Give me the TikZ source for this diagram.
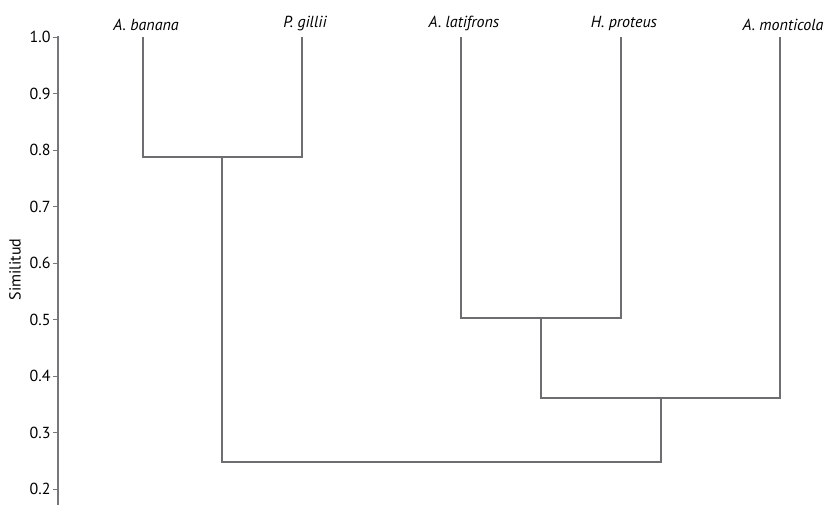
\documentclass[tikz,border=0pt]{standalone}
\usepackage{fontspec}
\setmainfont{PT Sans}
\usetikzlibrary{positioning}
\definecolor{branch}{HTML}{6E6E72}
\definecolor{axisgray}{HTML}{77777B}
\begin{document}
\begin{tikzpicture}[x=1pt,y=565pt,every node/.style={font=\fontsize{16}{18}\selectfont,inner sep=1pt,text=black},
  leaf/.style={font=\fontsize{16}{18}\selectfont\itshape,above=5pt,xshift=3pt},link/.style={branch,line width=1.5pt}]
\useasboundingbox (0,0.1363) rectangle (826,1.0655);
% axis
\draw[axisgray,line width=1.5pt] (58,1.0018)--(58,0.1717);
\foreach \s in {1.0,0.9,0.8,0.7,0.6,0.5,0.4,0.3,0.2}{\draw[axisgray,line width=1pt] (53,\s)--(58,\s) node[at start,left=1pt]{\s};}
\node[rotate=90] (ylab) at (15,0.5885){Similitud};
% leaves
\coordinate (a) at (143,1);\coordinate (b) at (302,1);\coordinate (c) at (461,1);\coordinate (d) at (621,1);\coordinate (e) at (780,1);
\node[leaf] (la) at (a){A. banana};\node[leaf] (lb) at (b){P. gillii};\node[leaf] (lc) at (c){A. latifrons};
\node[leaf] (ld) at (d){H. proteus};\node[leaf] (le) at (e){A. monticola};
% joints
\coordinate (ab) at (222,0.7876);\coordinate (cd) at (541,0.5027);\coordinate (cde) at (661,0.361);\coordinate (root) at (441.5,0.248);
\draw[link] (a)|-(ab)-|(b);
\draw[link] (c)|-(cd)-|(d);
\draw[link] (cd)|-(cde)-|(e);
\draw[link] (ab)|-(root)-|(cde);
\end{tikzpicture}
\end{document}
